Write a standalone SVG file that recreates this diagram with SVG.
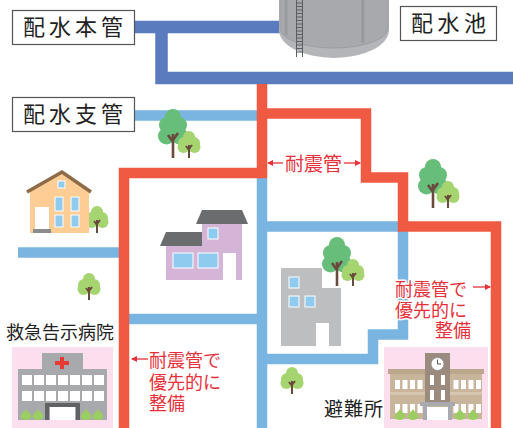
<svg xmlns="http://www.w3.org/2000/svg" xmlns:xlink="http://www.w3.org/1999/xlink" width="513" height="428" viewBox="0 0 513 428">
  <style>
    .label { font-family: "Noto Sans CJK JP", "Noto Sans", sans-serif; fill: #222; }
    .box { fill: #fff; stroke: #555; stroke-width: 1.2; }
    .red-text { font-family: "Noto Sans CJK JP", "Noto Sans", sans-serif; fill: #e8303a; font-size: 18px; stroke: #fff; stroke-width: 3; paint-order: stroke; stroke-linejoin: round; }
    .arrow { stroke: #e8303a; stroke-width: 1.3; fill: none; marker-end: url(#head); }
    .main { fill: none; stroke: #5a7bbe; stroke-width: 12.5; stroke-linejoin: miter; }
    .branch { fill: none; stroke: #7ab5e2; stroke-width: 10.5; stroke-linejoin: miter; }
    .quake { fill: none; stroke: #f15a42; stroke-width: 10.5; stroke-linejoin: miter; }
    .win { fill: #8ecbef; stroke: #fff; stroke-width: 1; }
    .white { fill: #fff; }
    .pink { fill: #fbdfee; }
  </style>
  <defs>
    <marker id="head" viewBox="0 0 6 6" refX="5" refY="3" markerWidth="6" markerHeight="6" markerUnits="userSpaceOnUse" orient="auto">
      <path d="M0,0 L6,3 L0,6 Z" fill="#e8303a"/>
    </marker>
    <g id="treeDark">
      <g fill="#67bd7a">
        <circle cx="0" cy="-41" r="8"/>
        <circle cx="-6" cy="-33" r="8"/>
        <circle cx="6" cy="-33" r="8"/>
        <circle cx="-6.5" cy="-22" r="8.5"/>
        <circle cx="6.5" cy="-22" r="8.5"/>
        <circle cx="0" cy="-27" r="9"/>
      </g>
      <path d="M0,0 V-24 M0,-16 L-5,-23 M0,-18 L5,-25" stroke="#6b4a3e" stroke-width="2.6" fill="none"/>
    </g>
    <g id="treeLight">
      <g fill="#a5d470">
        <circle cx="0" cy="-21" r="6"/>
        <circle cx="-5" cy="-15" r="6"/>
        <circle cx="5" cy="-15" r="6"/>
        <circle cx="-5.5" cy="-11" r="6"/>
        <circle cx="5.5" cy="-11" r="6"/>
        <circle cx="0" cy="-14" r="7"/>
      </g>
      <path d="M0,0 V-13 M0,-8 L-3,-12 M0,-9 L3,-13" stroke="#6b4a3e" stroke-width="2" fill="none"/>
    </g>
    <path id="bush" d="M0,0 C-5,0 -6,-3 -5,-5 C-4,-7 -1,-9 0,-11 C1,-9 4,-7 5,-5 C6,-3 5,0 0,0 Z" fill="#9ccd62"/>
  </defs>

  <!-- water pipes -->
  <g id="connectors">
    <path class="main" d="M135,27 H300"/>
    <path class="main" d="M161.5,27 V78 H513"/>
    <path class="branch" d="M135,115.5 H262"/>
    <path class="branch" d="M262,178 V430"/>
    <path class="branch" d="M18,252.5 H124"/>
    <path class="branch" d="M124,319 H262"/>
    <path class="branch" d="M262,226.5 H403 V334.5 H373 V359 H262"/>
    <path class="quake" d="M124,430 V173 H262 V84"/>
    <path class="quake" d="M262,113.5 H366 V177.5 H403 V226.5 H496 V430"/>
  </g>

  <!-- reservoir tank -->
  <g id="tank">
    <path d="M279,-2 H389 V30 A55,28 0 0 1 279,30 Z" fill="#b4b5b8"/>
    <path d="M280,-2 H388 V28 A54,20 0 0 1 280,28 Z" fill="#a8a9ad" stroke="#9d9ea2" stroke-width="1"/>
    <rect x="284.5" y="-2" width="3" height="37" fill="#9a9b9f"/>
    <rect x="361" y="-2" width="3.5" height="45" fill="#9a9b9f"/>
    <g stroke="#5d5e61" stroke-width="1" fill="none">
      <path d="M296.5,0 V57 M302.5,0 V57"/>
      <path d="M296.5,3 H302.5 M296.5,6.5 H302.5 M296.5,10 H302.5 M296.5,13.5 H302.5 M296.5,17 H302.5 M296.5,20.5 H302.5 M296.5,24 H302.5 M296.5,27.5 H302.5 M296.5,31 H302.5 M296.5,34.5 H302.5 M296.5,38 H302.5 M296.5,41.5 H302.5 M296.5,45 H302.5 M296.5,48.5 H302.5 M296.5,52 H302.5"/>
    </g>
  </g>

  <!-- labels in boxes -->
  <g id="label-main">
    <rect class="box" x="12.5" y="10.5" width="122" height="34"/>
    <text class="label" x="23" y="35" font-size="22" letter-spacing="4">配水本管</text>
  </g>
  <g id="label-branch">
    <rect class="box" x="12.5" y="97.5" width="122" height="34"/>
    <text class="label" x="23" y="122" font-size="22" letter-spacing="4">配水支管</text>
  </g>
  <g id="label-reservoir">
    <rect class="box" x="400.5" y="6.5" width="96" height="34"/>
    <text class="label" x="411" y="31" font-size="22" letter-spacing="4.5">配水池</text>
  </g>

  <!-- trees -->
  <g id="trees">
    <use xlink:href="#treeDark" transform="translate(173,158)"/>
    <use xlink:href="#treeLight" transform="translate(189,158)"/>
    <use xlink:href="#treeDark" transform="translate(433,208)"/>
    <use xlink:href="#treeLight" transform="translate(448,208)"/>
    <use xlink:href="#treeDark" transform="translate(337,286)"/>
    <use xlink:href="#treeLight" transform="translate(353,286)"/>
    <use xlink:href="#treeLight" transform="translate(97,233)"/>
    <use xlink:href="#treeLight" transform="translate(89,300)"/>
    <use xlink:href="#treeLight" transform="translate(292,394)"/>
  </g>

  <!-- detached house -->
  <g id="house-orange">
    <path d="M30,191 L62,173 L89,191 V233 H30 Z" fill="#fecd95"/>
    <path d="M27,192 L62,172 L91,192" stroke="#8d6b46" stroke-width="3.5" fill="none"/>
    <rect x="35" y="207" width="14" height="23" class="white"/>
    <rect x="33" y="229" width="18" height="4" fill="#8b8c8e"/>
    <rect class="win" x="58" y="181" width="7" height="7"/>
    <rect class="win" x="55" y="197" width="8" height="14"/>
    <rect class="win" x="71" y="197" width="8" height="14"/>
    <rect class="win" x="55" y="215" width="8" height="12"/>
    <rect class="win" x="71" y="215" width="8" height="12"/>
  </g>

  <!-- two-storey house -->
  <g id="house-purple">
    <rect x="202" y="224" width="40" height="56" fill="#d4b5d7"/>
    <rect x="166" y="246" width="36" height="34" fill="#d4b5d7"/>
    <path d="M196,224 L202,210 H242 L248,224 Z" fill="#6b6c6e"/>
    <path d="M160,246 L166,232 H202 V246 Z" fill="#6b6c6e"/>
    <rect class="win" x="208" y="228" width="10" height="11"/>
    <rect class="win" x="173" y="253" width="20" height="15"/>
    <rect class="win" x="198" y="253" width="20" height="15"/>
    <rect x="223" y="253" width="13" height="27" class="white"/>
  </g>

  <!-- office building -->
  <g id="building">
    <rect x="281" y="268" width="41" height="78" fill="#bdbec0"/>
    <rect x="321" y="288" width="20" height="58" fill="#bdbec0"/>
    <rect x="316" y="323" width="13" height="23" class="white"/>
    <rect class="win" x="289" y="277" width="10" height="11"/>
    <rect class="win" x="289" y="296" width="10" height="11"/>
    <rect class="win" x="305" y="296" width="10" height="11"/>
  </g>

  <!-- emergency hospital -->
  <g id="hospital">
    <rect class="pink" x="12" y="347" width="101" height="83"/>
    <rect x="42" y="353" width="41" height="17" fill="#a8a9ad"/>
    <rect x="18" y="369" width="89" height="51" fill="#a8a9ad"/>
    <path d="M60,357 h4 v4 h5 v4 h-5 v4 h-4 v-4 h-5 v-4 h5 Z" fill="#e83a35"/>
    <g class="white">
      <rect x="22" y="375" width="10" height="10"/><rect x="34" y="375" width="10" height="10"/><rect x="46" y="375" width="10" height="10"/><rect x="58" y="375" width="10" height="10"/><rect x="70" y="375" width="10" height="10"/><rect x="82" y="375" width="10" height="10"/><rect x="94" y="375" width="10" height="10"/>
      <rect x="22" y="391" width="10" height="10"/><rect x="34" y="391" width="10" height="10"/><rect x="46" y="391" width="10" height="10"/><rect x="58" y="391" width="10" height="10"/><rect x="70" y="391" width="10" height="10"/><rect x="82" y="391" width="10" height="10"/><rect x="94" y="391" width="10" height="10"/>
      <rect x="50" y="407" width="25" height="13"/>
    </g>
    <path d="M45,403 H80 V420 H76 V407 H49 V420 H45 Z" fill="#616264"/>
    <use xlink:href="#bush" transform="translate(26,420)"/>
    <use xlink:href="#bush" transform="translate(38,420)"/>
    <use xlink:href="#bush" transform="translate(86,420)"/>
    <use xlink:href="#bush" transform="translate(98,420)"/>
    <text class="label" x="6" y="339" font-size="18" fill="#333">救急告示病院</text>
  </g>

  <!-- evacuation shelter -->
  <g id="shelter">
    <rect class="pink" x="384" y="347" width="104" height="83"/>
    <rect x="390" y="372" width="92" height="47" fill="#c9b59b"/>
    <rect x="388" y="369" width="96" height="5" fill="#bca78d"/>
    <rect x="390" y="392" width="92" height="3" fill="#d6c6b0"/>
    <rect x="425" y="353" width="25" height="51" fill="#9b8a7e"/>
    <circle cx="437.5" cy="364" r="6.5" fill="#fff" stroke="#8a8a8a" stroke-width="0.8"/>
    <path d="M437.5,364 V359.5 M437.5,364 H441" stroke="#555" stroke-width="1" fill="none"/>
    <g class="white">
      <rect x="430" y="375" width="4" height="10"/><rect x="441" y="375" width="4" height="10"/>
      <rect x="430" y="390" width="4" height="10"/><rect x="441" y="390" width="4" height="10"/>
      <rect x="395" y="380" width="5" height="9"/><rect x="402.5" y="380" width="5" height="9"/><rect x="410" y="380" width="5" height="9"/><rect x="417.5" y="380" width="5" height="9"/>
      <rect x="453.5" y="380" width="5" height="9"/><rect x="461" y="380" width="5" height="9"/><rect x="468.5" y="380" width="5" height="9"/><rect x="476" y="380" width="5" height="9"/>
      <rect x="395" y="404" width="5" height="9"/><rect x="402.5" y="404" width="5" height="9"/><rect x="410" y="404" width="5" height="9"/><rect x="417.5" y="404" width="5" height="9"/>
      <rect x="453.5" y="404" width="5" height="9"/><rect x="461" y="404" width="5" height="9"/><rect x="468.5" y="404" width="5" height="9"/><rect x="476" y="404" width="5" height="9"/>
      <rect x="427" y="407" width="21" height="13"/>
    </g>
    <path d="M420,402 H455 V406 H452 V420 H448 V406 H427 V420 H423 V406 H420 Z" fill="#a9aaad"/>
    <use xlink:href="#bush" transform="translate(400,420)"/>
    <use xlink:href="#bush" transform="translate(413,420)"/>
    <use xlink:href="#bush" transform="translate(460,420)"/>
    <use xlink:href="#bush" transform="translate(473,420)"/>
    <text class="label" x="324" y="416" font-size="19" letter-spacing="1" fill="#333">避難所</text>
  </g>

  <!-- seismic pipe notes -->
  <g id="note-top">
    <path class="arrow" d="M283,163 H268"/>
    <path class="arrow" d="M344,163 H360"/>
    <text class="red-text" x="285" y="171" font-size="19" style="font-size:19px">耐震管</text>
  </g>
  <g id="note-right">
    <text class="red-text" text-anchor="end">
      <tspan x="471" y="296">耐震管で</tspan>
      <tspan x="471" y="316.5">優先的に</tspan>
      <tspan x="471" y="337">整備</tspan>
    </text>
    <path class="arrow" d="M473,287 H490"/>
  </g>
  <g id="note-left">
    <path class="arrow" d="M148,359 H132"/>
    <text class="red-text">
      <tspan x="149" y="367">耐震管で</tspan>
      <tspan x="149" y="388.5">優先的に</tspan>
      <tspan x="149" y="410">整備</tspan>
    </text>
  </g>
</svg>
